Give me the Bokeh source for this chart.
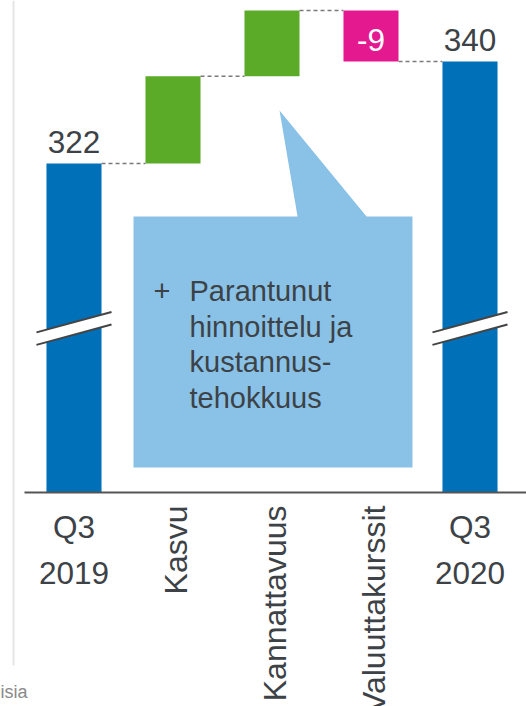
import math
from bokeh.plotting import figure
from bokeh.models import ColumnDataSource
from bokeh.core.properties import value
from bokeh.embed import file_html
from bokeh.resources import INLINE

# ---------------- data ----------------
categories = ["Q3\n2019", "Kasvu", "Kannattavuus", "Valuuttakurssit", "Q3\n2020"]
kinds = ["total", "delta", "delta", "delta", "total"]
values = [322, 15.4, 11.6, -9, 340]
value_labels = ["322", "", "", "-9", "340"]
callout_lines = ["Parantunut", "hinnoittelu ja", "kustannus-", "tehokkuus"]
callout_bullet = "+"
footnote = "isia"

# ---------------- style ----------------
FONT = value("Liberation Sans")
BLUE = "#0070B8"
GREEN = "#5BAA28"
PINK = "#E5198F"
CALLOUT = "#89C2E6"
TEXT = "#3D4247"
AXIS_BASE = 263.94      # value where the (broken) axis is drawn
BAR_W = 0.556
X_RANGE = (-0.7424, 4.5707)
Y_RANGE = (226.18, 350.77)
BASELINE_FIX = -11      # svg alphabetic baseline correction (px)
BIG = "31.5px"

p = figure(width=526, height=706, x_range=X_RANGE, y_range=Y_RANGE,
           output_backend="svg", toolbar_location=None, min_border=0)
p.axis.visible = False
p.grid.visible = False
p.outline_line_color = None
p.background_fill_color = "white"
p.border_fill_color = "white"

xs = list(range(len(categories)))

# waterfall geometry
bottoms, tops, colors = [], [], []
levels = []
running = 0.0
for k, v in zip(kinds, values):
    if k == "total":
        bottoms.append(AXIS_BASE)
        tops.append(v)
        colors.append(BLUE)
        running = v
    else:
        lo, hi = sorted([running, running + v])
        bottoms.append(lo)
        tops.append(hi)
        colors.append(GREEN if v >= 0 else PINK)
        running += v
    levels.append(running)

# slide frame line at left
p.segment(x0=[-0.611], y0=[Y_RANGE[1]], x1=[-0.611], y1=[233.4],
          line_color="#E6E6E6", line_width=2)

# callout (box with pointer to the profitability bar)
cx0, cx1, cy0, cy1 = 0.601, 3.419, 268.35, 312.65
p.patch(x=[cx0, cx1, cx1, 2.955, 2.076, 2.258, cx0],
        y=[cy0, cy0, cy1, cy1, 331.35, cy1, cy1],
        fill_color=CALLOUT, line_color=None)

bars = ColumnDataSource(dict(x=xs, bottom=bottoms, top=tops, color=colors))
p.vbar(x="x", bottom="bottom", top="top", width=BAR_W, fill_color="color",
       line_color=None, source=bars)

# connectors
cx_start = [i + BAR_W / 2 for i in xs[:-1]]
cx_end = [i + 1 - BAR_W / 2 for i in xs[:-1]]
p.segment(x0=cx_start, y0=levels[:-1], x1=cx_end, y1=levels[:-1],
          line_color="#7A7A7A", line_width=1.5, line_dash="4 3")

# axis baseline
p.segment(x0=[-0.5], y0=[AXIS_BASE], x1=[X_RANGE[1]], y1=[AXIS_BASE],
          line_color="#555555", line_width=2)

# axis break marks on total bars
half = 0.379
bc, gap, slant = 292.9, 1.1, 1.8
for i, k in zip(xs, kinds):
    if k != "total":
        continue
    p.patch(x=[i - half, i + half, i + half, i - half],
            y=[bc + gap - slant, bc + gap + slant, bc - gap + slant, bc - gap - slant],
            fill_color="white", line_color=None)
    p.segment(x0=[i - half, i - half], y0=[bc + gap - slant, bc - gap - slant],
              x1=[i + half, i + half], y1=[bc + gap + slant, bc - gap + slant],
              line_color="#444444", line_width=2)

# value labels
lab_x, lab_y, lab_t, lab_c = [], [], [], []
for i, k, v, t, b, tp in zip(xs, kinds, values, value_labels, bottoms, tops):
    if not t:
        continue
    lab_x.append(i)
    if k == "delta" and v < 0:
        lab_y.append(b)
        lab_c.append("white")
    else:
        lab_y.append(tp)
        lab_c.append(TEXT)
    lab_t.append(t)
p.text(x="x", y="y", text="t", text_color="c",
       source=ColumnDataSource(dict(x=lab_x, y=lab_y, t=lab_t, c=lab_c)),
       text_font=FONT, text_font_size=BIG, text_align="center",
       text_baseline="alphabetic", y_offset=-11 + BASELINE_FIX)

# category labels
h_x, h_t, h_off = [], [], []
r_x, r_t = [], []
for i, k, c in zip(xs, kinds, categories):
    if k == "total":
        for j, part in enumerate(c.split("\n")):
            h_x.append(i)
            h_t.append(part)
            h_off.append(45 + 46 * j + BASELINE_FIX)
    else:
        r_x.append(i)
        r_t.append(c)
p.text(x="x", y=AXIS_BASE, text="t", y_offset="off",
       source=ColumnDataSource(dict(x=h_x, t=h_t, off=h_off)),
       text_font=FONT, text_font_size=BIG, text_color=TEXT,
       text_align="center", text_baseline="alphabetic")
p.text(x="x", y=AXIS_BASE, text="t",
       source=ColumnDataSource(dict(x=r_x, t=r_t)),
       angle=math.pi / 2, y_offset=13, x_offset=3,
       text_font=FONT, text_font_size="32px", text_color=TEXT,
       text_align="right", text_baseline="middle")

# callout text
p.text(x=[0.803], y=[297.52], text=[callout_bullet], text_font=FONT,
       y_offset=BASELINE_FIX,
       text_font_size="29px", text_color=TEXT, text_baseline="alphabetic")
p.text(x=[1.1667] * len(callout_lines), y=[297.52] * len(callout_lines),
       text=callout_lines,
       y_offset=[35.5 * j + BASELINE_FIX for j in range(len(callout_lines))],
       text_font=FONT, text_font_size="29px", text_color=TEXT,
       text_baseline="alphabetic")

# footnote fragment
p.text(x=[-0.4697], y=[227.24], text=[footnote], y_offset=-8,
       text_font=FONT,
       text_font_size="18px", text_color="#8A8A8A", text_align="right",
       text_baseline="alphabetic")

open("out.html", "w").write(file_html(p, INLINE))
